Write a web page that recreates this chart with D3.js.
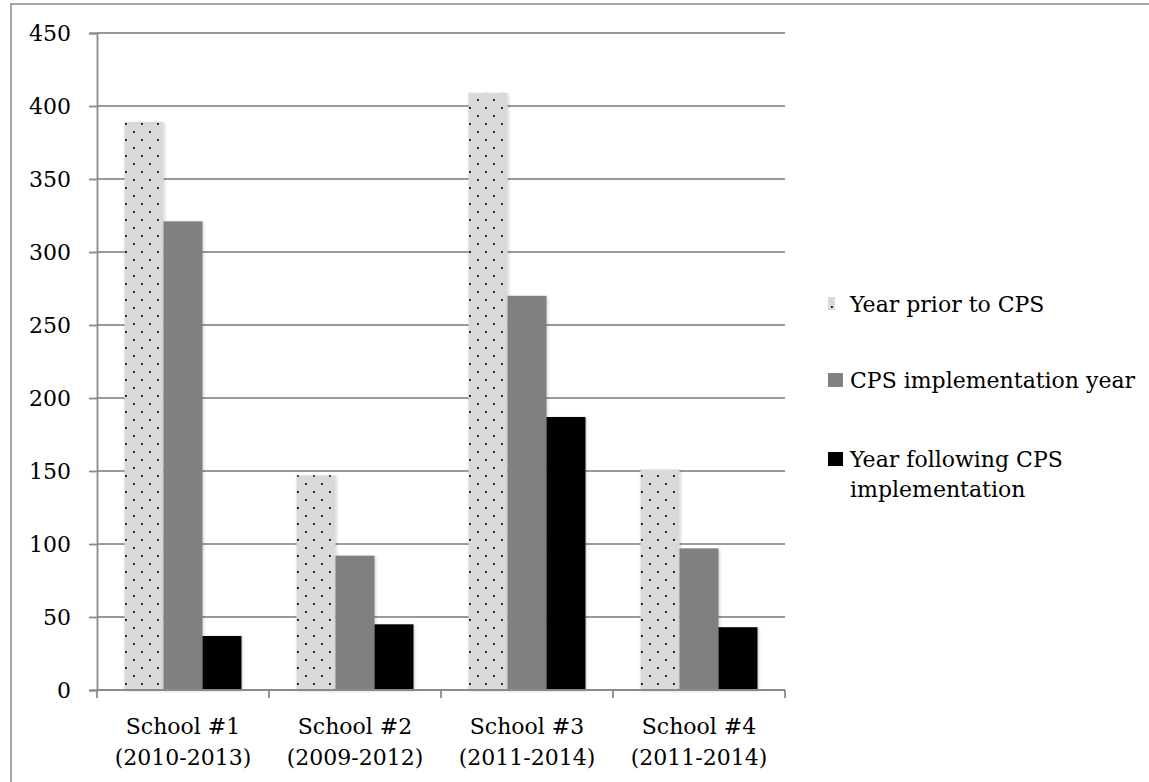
<!DOCTYPE html>
<html>
<head>
<meta charset="utf-8">
<script src="https://cdn.jsdelivr.net/npm/d3@7"></script>
<style>
  body { margin: 0; background: #fff; }
  text { font-family: "DejaVu Serif", serif; fill: #000; }
</style>
</head>
<body>
<svg id="chart"></svg>
<script>
const schools = ["School #1", "School #2", "School #3", "School #4"];
const periods = ["(2010-2013)", "(2009-2012)", "(2011-2014)", "(2011-2014)"];
const seriesNames = ["Year prior to CPS", "CPS implementation year", "Year following CPS implementation"];
const priorYear = [389, 147, 409, 151];
const implYear = [321, 92, 270, 97];
const followingYear = [37, 45, 187, 43];
const yTicks = [0, 50, 100, 150, 200, 250, 300, 350, 400, 450];

const W = 1149, H = 782;
const margin = { top: 33, right: 364, bottom: 92, left: 97 };
const width = W - margin.left - margin.right;
const height = H - margin.top - margin.bottom;
const fs = 22;

const svg = d3.select("#chart").attr("width", W).attr("height", H);

const defs = svg.append("defs");
const pat = defs.append("pattern")
  .attr("id", "dots")
  .attr("patternUnits", "userSpaceOnUse")
  .attr("width", 16).attr("height", 16);
pat.append("rect").attr("width", 16).attr("height", 16).attr("fill", "#d9d9d9");
pat.append("rect").attr("x", 4).attr("y", 2).attr("width", 1.8).attr("height", 1.8).attr("fill", "#000");
pat.append("rect").attr("x", 12).attr("y", 10).attr("width", 1.8).attr("height", 1.8).attr("fill", "#000");

const shadow = defs.append("filter").attr("id", "shadow")
  .attr("x", "-20%").attr("y", "-5%").attr("width", "140%").attr("height", "110%");
shadow.append("feDropShadow")
  .attr("dx", 1).attr("dy", 1).attr("stdDeviation", 1.5)
  .attr("flood-color", "#000").attr("flood-opacity", 0.2);

// frame lines (left and top)
svg.append("line").attr("x1", 11).attr("x2", 11).attr("y1", 4).attr("y2", H)
  .attr("stroke", "#8a8a8a").attr("stroke-width", 1.5);
svg.append("line").attr("x1", 10).attr("x2", W).attr("y1", 4).attr("y2", 4)
  .attr("stroke", "#8a8a8a").attr("stroke-width", 1.5);

const g = svg.append("g").attr("transform", `translate(${margin.left},${margin.top})`);

const x0 = d3.scaleBand().domain(schools).range([0, width]).paddingInner(0).paddingOuter(0);
const inner = 117 / 172;
const x1 = d3.scaleBand().domain(d3.range(3))
  .range([x0.bandwidth() * (1 - inner) / 2, x0.bandwidth() * (1 + inner) / 2]);
const y = d3.scaleLinear().domain([0, 450]).range([height, 0]);

// gridlines
g.append("g")
  .selectAll("line")
  .data(yTicks.filter(d => d > 0))
  .enter().append("line")
  .attr("x1", 0).attr("x2", width)
  .attr("y1", d => y(d)).attr("y2", d => y(d))
  .attr("stroke", "#9a9a9a").attr("stroke-width", 1.8);

// bars
const fills = ["url(#dots)", "#808080", "#000000"];
const values = [priorYear, implYear, followingYear];
schools.forEach((s, i) => {
  const grp = g.append("g").attr("transform", `translate(${x0(s)},0)`);
  values.forEach((vals, k) => {
    grp.append("rect")
      .attr("x", x1(k))
      .attr("y", y(vals[i]))
      .attr("width", x1.bandwidth())
      .attr("height", height - y(vals[i]))
      .attr("fill", fills[k])
      .attr("filter", "url(#shadow)");
  });
});

// y axis
const yAxis = g.append("g")
  .call(d3.axisLeft(y).tickValues(yTicks).tickSize(8).tickPadding(18).tickFormat(d3.format("d")));
yAxis.select(".domain").attr("stroke", "#8a8a8a").attr("stroke-width", 1.8);
yAxis.selectAll(".tick line").attr("stroke", "#8a8a8a").attr("stroke-width", 1.8);
yAxis.selectAll("text").attr("font-size", fs).attr("font-family", "DejaVu Serif");

// x axis
const xAxis = g.append("g").attr("transform", `translate(0,${height})`);
xAxis.append("line").attr("x1", 0).attr("x2", width).attr("y1", 0).attr("y2", 0)
  .attr("stroke", "#8a8a8a").attr("stroke-width", 1.8);
xAxis.selectAll(".xt")
  .data(d3.range(schools.length + 1))
  .enter().append("line")
  .attr("class", "xt")
  .attr("x1", d => d * x0.step()).attr("x2", d => d * x0.step())
  .attr("y1", 0).attr("y2", 8)
  .attr("stroke", "#8a8a8a").attr("stroke-width", 1.8);
const lbl = xAxis.selectAll(".xl")
  .data(schools)
  .enter().append("text")
  .attr("class", "xl")
  .attr("text-anchor", "middle")
  .attr("font-size", fs)
  .attr("x", d => x0(d) + x0.bandwidth() / 2);
lbl.append("tspan").attr("x", d => x0(d) + x0.bandwidth() / 2).attr("y", 44).text(d => d);
lbl.append("tspan").attr("x", d => x0(d) + x0.bandwidth() / 2).attr("y", 75).text((d, i) => periods[i]);

// legend
const legend = svg.append("g").attr("transform", "translate(828,0)");
const legendY = [312, 388, 467];
seriesNames.forEach((name, k) => {
  const row = legend.append("g").attr("transform", `translate(0,${legendY[k]})`);
  if (k === 0) {
    row.append("rect").attr("x", 0).attr("y", -15).attr("width", 7).attr("height", 13).attr("fill", "#d9d9d9");
    row.append("rect").attr("x", 3).attr("y", -6).attr("width", 1.8).attr("height", 1.8).attr("fill", "#000");
  } else {
    row.append("rect").attr("x", 0).attr("y", -15).attr("width", 15).attr("height", 14).attr("fill", fills[k]);
  }
  const t = row.append("text").attr("x", 22).attr("y", 0).attr("font-size", fs);
  if (k === 2) {
    t.append("tspan").attr("x", 22).attr("y", 0).text("Year following CPS");
    t.append("tspan").attr("x", 22).attr("y", 30).text("implementation");
  } else {
    t.text(name);
  }
});
</script>
</body>
</html>
